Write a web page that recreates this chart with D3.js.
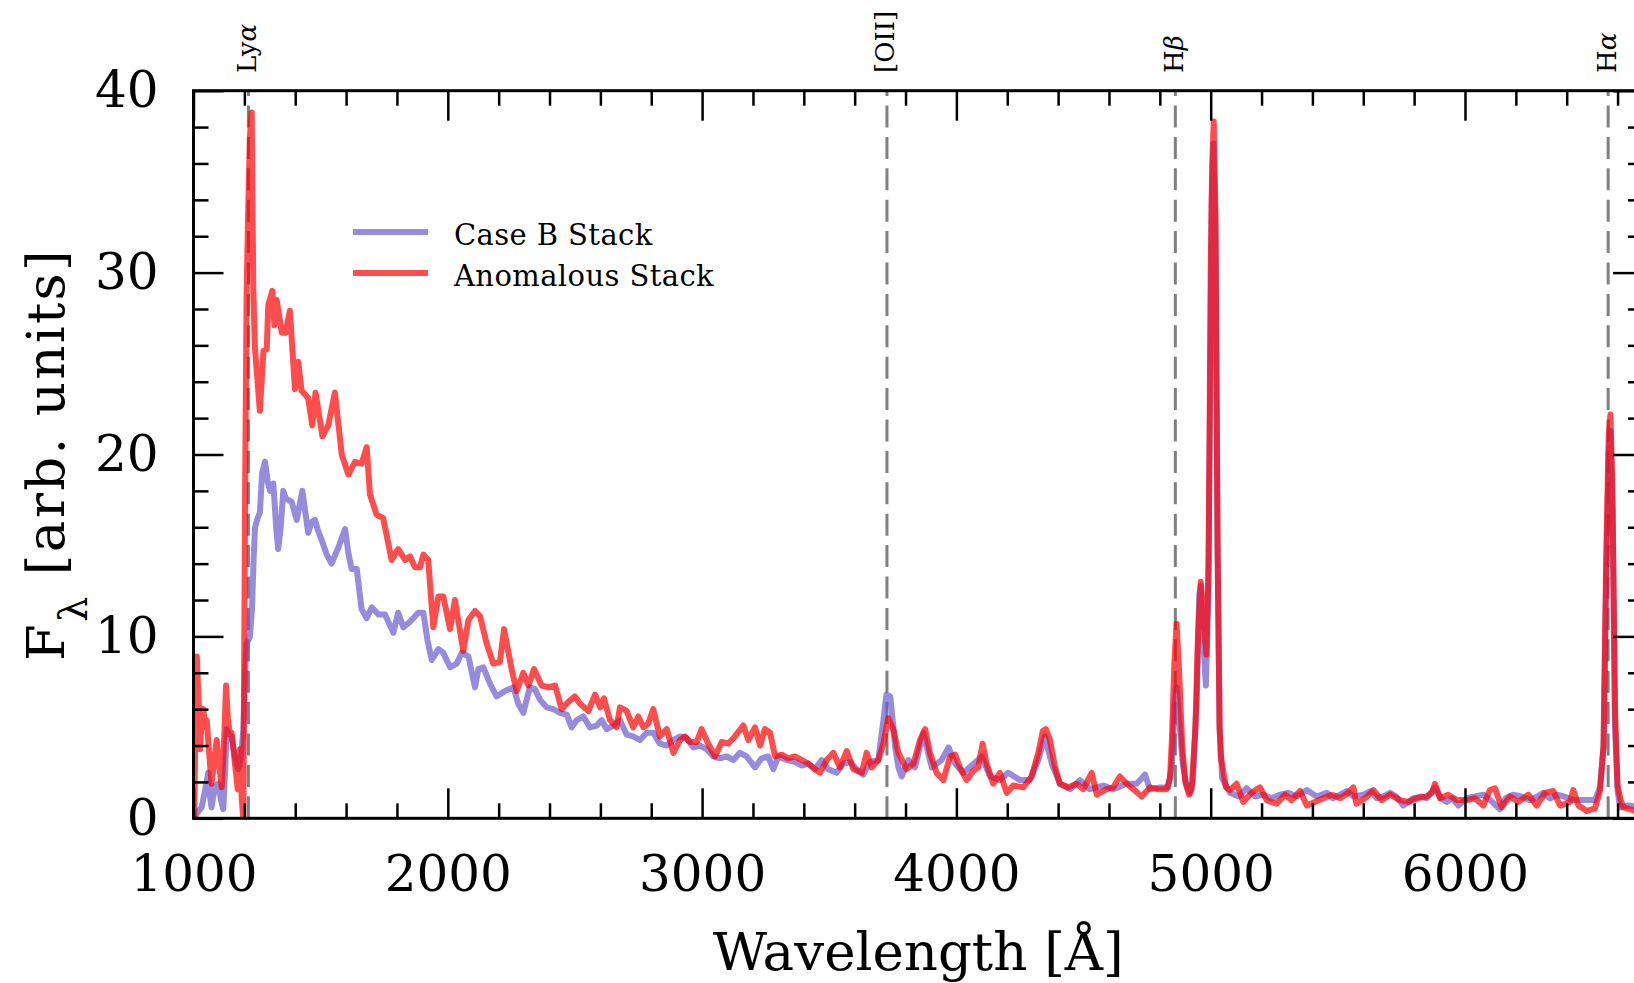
<!DOCTYPE html>
<html>
<head>
<meta charset="utf-8">
<script src="https://cdn.jsdelivr.net/npm/d3@7"></script>
<style>
  body { margin: 0; background: #fff; }
  svg { display: block; }
  text { font-family: "DejaVu Serif", serif; fill: #000; }
</style>
</head>
<body>
<svg width="1634" height="983"></svg>
<script>
// [wavelength (A), flux]
var caseB = [
  [1003, 0], [1015, 0.3], [1032, 0.6], [1045, 1.5], [1058, 2.5], [1065, 1.2], [1071, 0.6], [1085, 1.8],
  [1098, 1.9], [1108, 1.0], [1117, 0.5], [1124, 2.5], [1131, 4.9], [1140, 4.6], [1150, 4.5], [1163, 3.4],
  [1176, 2.7], [1188, 3.5], [1196, 4.9], [1203, 8], [1209, 9.6], [1222, 10.0], [1230, 11.5], [1237, 14.5],
  [1242, 16.0], [1252, 16.5], [1261, 16.8], [1270, 19], [1281, 19.6], [1292, 18.5], [1301, 18.0], [1314, 18.4],
  [1325, 16], [1333, 14.8], [1343, 16], [1353, 18.0], [1363, 17.6], [1373, 17.5], [1386, 17.4], [1406, 16.4],
  [1428, 18.0], [1451, 15.7], [1465, 16.3], [1478, 16.4], [1490, 15.8], [1504, 15.3], [1524, 14.5], [1543, 14.0],
  [1570, 14.9], [1596, 15.9], [1610, 14.5], [1622, 13.7], [1642, 13.7], [1661, 11.5], [1681, 11.0], [1701, 11.6],
  [1727, 11.2], [1753, 11.2], [1786, 10.2], [1805, 11.3], [1825, 10.5], [1851, 10.8], [1884, 11.3], [1904, 11.3],
  [1920, 9.8], [1937, 8.7], [1963, 9.3], [1982, 9.1], [2009, 8.3], [2035, 8.5], [2055, 9.1], [2081, 8.9],
  [2107, 7.2], [2120, 8.2], [2140, 8.3], [2166, 7.4], [2192, 6.7], [2225, 7.0], [2258, 7.2], [2277, 6.3],
  [2297, 5.8], [2323, 7.2], [2343, 7.1], [2363, 6.5], [2389, 6.1], [2415, 6.0], [2441, 5.8], [2468, 5.7],
  [2487, 5.0], [2507, 5.4], [2533, 5.6], [2559, 5.0], [2586, 5.1], [2605, 5.4], [2625, 4.9], [2651, 5.1],
  [2677, 5.4], [2703, 4.6], [2729, 4.5], [2756, 4.3], [2782, 4.7], [2808, 4.7], [2834, 4.1], [2861, 4.0],
  [2887, 4.3], [2913, 4.5], [2939, 4.4], [2965, 3.9], [2992, 4.0], [3018, 3.8], [3044, 3.4], [3070, 3.3],
  [3097, 3.4], [3123, 3.2], [3149, 3.6], [3175, 3.4], [3208, 2.8], [3234, 3.3], [3260, 3.4], [3280, 2.7],
  [3300, 3.4], [3333, 3.2], [3365, 3.1], [3392, 2.9], [3418, 3.0], [3444, 2.7], [3470, 3.2], [3496, 2.7],
  [3529, 2.5], [3555, 3.0], [3582, 3.1], [3608, 2.7], [3634, 2.4], [3660, 3.1], [3693, 3.2], [3713, 5.4],
  [3725, 6.8], [3740, 6.7], [3752, 5.0], [3759, 3.9], [3772, 2.8], [3785, 2.3], [3811, 3.2], [3837, 2.8],
  [3870, 4.7], [3903, 2.8], [3942, 3.2], [3969, 3.9], [3995, 3.0], [4027, 2.5], [4060, 2.9], [4100, 3.4],
  [4132, 2.3], [4171, 2.1], [4204, 2.5], [4250, 2.1], [4289, 2.1], [4322, 3.2], [4348, 4.5], [4375, 3.0],
  [4407, 1.9], [4447, 1.6], [4486, 2.1], [4525, 1.6], [4578, 1.8], [4617, 1.6], [4670, 1.9], [4709, 1.9],
  [4742, 2.4], [4761, 1.6], [4801, 1.7], [4833, 1.7], [4848, 3.0], [4858, 6.2], [4866, 7.2], [4876, 5.5],
  [4890, 3.0], [4905, 1.8], [4918, 1.4], [4930, 2.0], [4945, 6.5], [4955, 12.3], [4961, 12.8], [4972, 9.5],
  [4981, 7.3], [4990, 12], [4997, 22], [5004, 34], [5011, 37.1], [5019, 32], [5027, 15], [5035, 5],
  [5045, 2.2], [5076, 1.4], [5110, 1.2], [5141, 1.65], [5175, 1.2], [5207, 1.3], [5240, 1.1], [5272, 1.3],
  [5305, 1.4], [5338, 1.2], [5378, 1.55], [5417, 1.2], [5456, 1.4], [5480, 1.1], [5509, 1.3], [5535, 1.5],
  [5561, 1.2], [5600, 1.3], [5630, 1.5], [5653, 1.1], [5680, 1.2], [5706, 1.4], [5730, 1.2], [5757, 0.7],
  [5797, 1.1], [5830, 1.2], [5849, 1.1], [5882, 1.7], [5905, 1.1], [5928, 0.9], [5950, 1.1], [5974, 0.7],
  [6007, 1.1], [6040, 1.2], [6072, 1.3], [6100, 1.0], [6137, 0.5], [6160, 1.1], [6190, 1.3], [6220, 1.2],
  [6256, 1.0], [6285, 1.2], [6308, 1.4], [6335, 1.1], [6361, 1.3], [6390, 1.2], [6426, 1.0], [6465, 1.0],
  [6511, 1.0], [6531, 1.7], [6545, 4], [6555, 13], [6565, 20], [6572, 21.3], [6580, 17], [6590, 5],
  [6600, 1.5], [6610, 0.6], [6640, 0.7], [6700, 0.6]
];

var anomalous = [
  [1003, 0], [1008, 6], [1013, 8.9], [1020, 6.5], [1026, 3.8], [1032, 5.5], [1039, 6.0], [1045, 5.0],
  [1052, 5.4], [1062, 3.5], [1071, 1.9], [1080, 3.0], [1091, 4.3], [1100, 3.0], [1111, 1.7], [1121, 4.5],
  [1128, 7.3], [1135, 5.5], [1143, 4.6], [1150, 4.7], [1163, 3.0], [1174, 1.6], [1183, 3.8], [1190, 1.0],
  [1196, 0], [1203, 18], [1209, 29], [1216, 34], [1222, 37.5], [1229, 38.8], [1235, 29.3], [1241, 26],
  [1248, 24.7], [1261, 22.4], [1275, 25.7], [1288, 25.8], [1294, 28.2], [1310, 29.0], [1318, 27.1], [1327, 28.5],
  [1347, 26.7], [1362, 26.7], [1379, 27.9], [1399, 23.6], [1412, 25.1], [1425, 23.5], [1451, 23.1], [1467, 21.6],
  [1480, 23.4], [1507, 21.0], [1530, 21.6], [1556, 23.4], [1583, 20.0], [1609, 18.9], [1635, 19.6], [1661, 19.5],
  [1681, 20.4], [1694, 17.8], [1720, 16.7], [1746, 16.5], [1779, 14.2], [1805, 14.8], [1832, 14.2], [1851, 14.4],
  [1871, 13.8], [1891, 13.8], [1904, 14.5], [1923, 14.2], [1943, 10.5], [1963, 12.2], [1982, 12.2], [2009, 10.4],
  [2028, 12.0], [2061, 9.2], [2081, 10.9], [2107, 11.4], [2127, 11.1], [2153, 9.6], [2179, 8.5], [2205, 8.6],
  [2221, 10.4], [2251, 8.2], [2271, 7.0], [2297, 8.0], [2317, 7.3], [2339, 8.2], [2369, 7.3], [2395, 7.2],
  [2422, 7.3], [2448, 6.0], [2474, 6.4], [2500, 6.7], [2520, 6.3], [2553, 5.9], [2579, 6.8], [2599, 6.1],
  [2614, 6.6], [2638, 5.4], [2664, 5.0], [2677, 6.1], [2703, 5.9], [2729, 5.0], [2749, 5.6], [2769, 5.0],
  [2788, 5.2], [2808, 6.0], [2834, 4.5], [2861, 4.9], [2887, 3.6], [2913, 4.3], [2933, 4.5], [2952, 4.2],
  [2979, 4.2], [2998, 4.9], [3024, 4.1], [3051, 3.4], [3077, 4.2], [3103, 4.1], [3129, 4.5], [3162, 5.1],
  [3182, 4.3], [3208, 5.0], [3228, 4.0], [3247, 4.9], [3267, 4.7], [3287, 3.4], [3313, 3.5], [3339, 3.3],
  [3365, 3.4], [3392, 3.2], [3418, 3.0], [3444, 2.7], [3464, 2.5], [3490, 3.2], [3516, 3.6], [3542, 2.8],
  [3569, 3.7], [3595, 2.7], [3628, 2.5], [3647, 3.6], [3667, 2.8], [3693, 3.2], [3713, 4.1], [3732, 5.5],
  [3752, 4.9], [3772, 3.6], [3804, 2.7], [3831, 3.0], [3857, 4.3], [3877, 4.9], [3896, 3.6], [3922, 2.5],
  [3949, 2.1], [3975, 3.4], [3995, 3.5], [4014, 2.8], [4040, 2.1], [4066, 2.6], [4086, 2.8], [4103, 4.1],
  [4119, 3.0], [4145, 1.9], [4171, 2.5], [4198, 1.4], [4224, 1.8], [4263, 1.7], [4296, 2.3], [4322, 3.6],
  [4340, 4.8], [4352, 4.9], [4368, 4.3], [4388, 2.8], [4407, 1.9], [4440, 1.7], [4473, 1.9], [4499, 1.6],
  [4532, 2.5], [4552, 1.3], [4591, 1.6], [4617, 1.7], [4643, 2.3], [4670, 1.9], [4696, 1.6], [4729, 1.2],
  [4761, 1.7], [4794, 1.6], [4827, 1.6], [4840, 2.2], [4848, 4.5], [4857, 8.5], [4866, 10.7], [4876, 8.0],
  [4888, 4.0], [4900, 2.0], [4915, 1.3], [4925, 1.6], [4940, 5.0], [4950, 10], [4961, 13.0], [4972, 11],
  [4983, 9.0], [4992, 14], [5000, 30], [5006, 36], [5012, 38.3], [5019, 33], [5027, 15], [5035, 5],
  [5040, 3.4], [5060, 1.7], [5076, 1.55], [5102, 1.9], [5128, 0.9], [5161, 1.4], [5194, 1.7], [5220, 1.0],
  [5259, 0.8], [5292, 1.3], [5318, 1.0], [5351, 1.5], [5378, 0.7], [5410, 0.9], [5443, 1.1], [5476, 1.3],
  [5509, 1.1], [5541, 1.4], [5561, 1.7], [5573, 0.8], [5607, 1.1], [5640, 1.55], [5672, 1.0], [5706, 1.3],
  [5744, 1.0], [5777, 0.9], [5810, 1.1], [5849, 1.2], [5870, 1.4], [5882, 1.9], [5902, 1.1], [5934, 1.3],
  [5967, 1.0], [6007, 1.0], [6039, 1.1], [6072, 0.7], [6098, 1.55], [6118, 1.65], [6144, 0.6], [6177, 1.2],
  [6210, 0.9], [6249, 1.3], [6282, 0.7], [6315, 1.4], [6347, 1.5], [6374, 0.7], [6413, 0.9], [6426, 1.55],
  [6446, 0.7], [6479, 0.4], [6511, 0.55], [6531, 1.5], [6545, 4], [6555, 14], [6565, 21], [6572, 22.2],
  [6580, 18], [6590, 6], [6600, 1.8], [6612, 1.0], [6623, 0.6], [6660, 0.45], [6700, 0.3]
];

var lineWaves = [1216, 3727, 4861, 6563];
var lineNames = [["Ly", "\u03b1"], ["[OII]", ""], ["H", "\u03b2"], ["H", "\u03b1"]];
var xTicks = [1000, 2000, 3000, 4000, 5000, 6000];
var yTicks = [0, 10, 20, 30, 40];
var seriesNames = ["Case B Stack", "Anomalous Stack"];

var svg = d3.select("svg");

var pLeft = 193.5, pRight = 1643, pTop = 90.7, pBottom = 818.3;

var x = d3.scaleLinear().domain([1000, 6700]).range([pLeft, pRight]);
var y = d3.scaleLinear().domain([0, 40]).range([pBottom, pTop]);

var xMinor = d3.range(1000, 6701, 200).filter(function(d) { return d % 1000 != 0; });
var yMinor = d3.range(0, 41, 2).filter(function(d) { return d % 10 != 0; });

svg.append("clipPath").attr("id", "plotclip")
  .append("rect")
  .attr("x", pLeft).attr("y", pTop)
  .attr("width", pRight - pLeft).attr("height", pBottom - pTop);

// dashed emission line markers
svg.selectAll(".eline")
  .data(lineWaves)
  .enter().append("line")
  .attr("x1", function(d) { return x(d); })
  .attr("x2", function(d) { return x(d); })
  .attr("y1", y(0))
  .attr("y2", y(40))
  .attr("stroke", "#808080")
  .attr("stroke-width", 3)
  .attr("stroke-dasharray", "22,9.4");

var line = d3.line()
  .x(function(d) { return x(d[0]); })
  .y(function(d) { return y(d[1]); });

var plot = svg.append("g").attr("clip-path", "url(#plotclip)");

plot.append("path")
  .datum(caseB)
  .attr("d", line)
  .attr("fill", "none")
  .attr("stroke", "slateblue")
  .attr("stroke-opacity", 0.7)
  .attr("stroke-width", 6)
  .attr("stroke-linejoin", "round");

plot.append("path")
  .datum(anomalous)
  .attr("d", line)
  .attr("fill", "none")
  .attr("stroke", "red")
  .attr("stroke-opacity", 0.7)
  .attr("stroke-width", 6)
  .attr("stroke-linejoin", "round");

// axes, ticks pointing inward on all four sides
function addAxis(axis, tx, ty) {
  var g = svg.append("g")
    .attr("transform", "translate(" + tx + "," + ty + ")")
    .call(axis);
  g.select(".domain").remove();
  g.selectAll(".tick line").attr("stroke", "#000").attr("stroke-width", 2.5);
  g.selectAll(".tick text")
    .style("font-family", "'DejaVu Serif', serif")
    .style("font-size", "50px")
    .attr("fill", "#000");
  return g;
}

addAxis(d3.axisBottom(x).tickValues(xTicks).tickSize(-30).tickPadding(37).tickFormat(d3.format("d")), 0, pBottom);
addAxis(d3.axisBottom(x).tickValues(xMinor).tickSize(-15).tickFormat(""), 0, pBottom);
addAxis(d3.axisTop(x).tickValues(xTicks).tickSize(-30).tickFormat(""), 0, pTop);
addAxis(d3.axisTop(x).tickValues(xMinor).tickSize(-15).tickFormat(""), 0, pTop);
addAxis(d3.axisLeft(y).tickValues(yTicks).tickSize(-30).tickPadding(35).tickFormat(d3.format("d")), pLeft, 0);
addAxis(d3.axisLeft(y).tickValues(yMinor).tickSize(-15).tickFormat(""), pLeft, 0);
addAxis(d3.axisRight(y).tickValues(yTicks).tickSize(-30).tickFormat(""), pRight, 0);
addAxis(d3.axisRight(y).tickValues(yMinor).tickSize(-15).tickFormat(""), pRight, 0);

svg.append("rect")
  .attr("x", pLeft).attr("y", pTop)
  .attr("width", pRight - pLeft).attr("height", pBottom - pTop)
  .attr("fill", "none")
  .attr("stroke", "#000")
  .attr("stroke-width", 3);

// emission line labels above the frame
var labels = svg.selectAll(".elabel")
  .data(lineWaves)
  .enter().append("text")
  .attr("transform", function(d) { return "translate(" + (x(d) + 7.5) + ",73) rotate(-90)"; })
  .style("font-size", "26px");
labels.append("tspan").text(function(d, i) { return lineNames[i][0]; });
labels.append("tspan").style("font-style", "italic").text(function(d, i) { return lineNames[i][1]; });

// axis titles
svg.append("text")
  .attr("x", (pLeft + pRight) / 2)
  .attr("y", 970)
  .attr("text-anchor", "middle")
  .style("font-size", "53px")
  .text("Wavelength [\u00c5]");

var ylab = svg.append("text")
  .attr("transform", "translate(64," + (pTop + pBottom) / 2 + ") rotate(-90)")
  .attr("text-anchor", "middle")
  .style("font-size", "53px")
  .style("letter-spacing", "2.3px");
ylab.append("tspan").text("F");
ylab.append("tspan").attr("baseline-shift", "sub").style("font-size", "40px").text("\u03bb");
ylab.append("tspan").text(" [arb. units]");

// legend
var legendColors = ["slateblue", "red"];
var legend = svg.selectAll(".legend")
  .data(seriesNames)
  .enter().append("g")
  .attr("transform", function(d, i) { return "translate(0," + (232 + i * 41) + ")"; });
legend.append("line")
  .attr("x1", 353).attr("x2", 428)
  .attr("stroke", function(d, i) { return legendColors[i]; })
  .attr("stroke-opacity", 0.7)
  .attr("stroke-width", 6);
legend.append("text")
  .attr("x", 454).attr("y", 13)
  .style("font-size", "29px")
  .style("letter-spacing", "0.4px")
  .text(function(d) { return d; });
</script>
</body>
</html>
